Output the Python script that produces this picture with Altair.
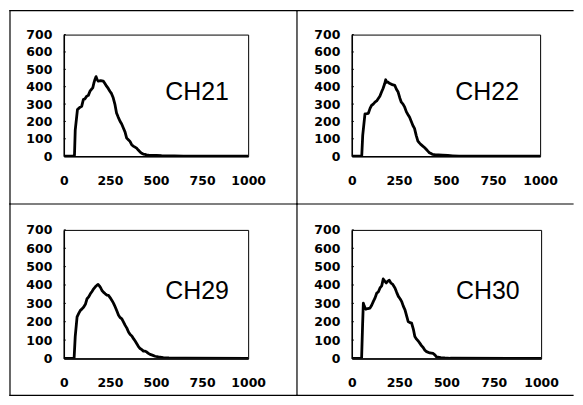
import altair as alt
import pandas as pd

# ---- data ----
names = ["CH21", "CH22", "CH29", "CH30"]

ch21_x = [0, 50, 58, 62, 74, 86, 97, 106, 115, 124, 133, 142, 150, 157, 163, 169, 175, 181, 187, 200, 214, 223, 232, 241, 250, 259, 268, 277, 286, 295, 305, 314, 323, 332, 341, 350, 359, 368, 377, 386, 395, 404, 413, 422, 431, 440, 449, 460, 480, 503, 530, 557, 600, 650, 1000]
ch21_y = [0, 0, 5, 150, 268, 280, 287, 326, 330, 345, 350, 374, 385, 393, 420, 442, 458, 440, 432, 435, 432, 418, 403, 390, 374, 360, 336, 300, 249, 225, 201, 185, 162, 140, 104, 95, 85, 66, 58, 52, 46, 35, 25, 17, 12, 10, 8, 6, 5, 5, 3, 2, 1, 0, 0]

ch22_x = [0, 45, 53, 58, 70, 80, 88, 97, 105, 114, 123, 132, 140, 149, 158, 166, 175, 180, 184, 190, 202, 215, 228, 237, 246, 255, 263, 272, 281, 290, 298, 307, 316, 325, 333, 342, 351, 360, 368, 377, 386, 395, 404, 412, 421, 430, 445, 460, 482, 510, 535, 570, 1000]
ch22_y = [0, 0, 3, 120, 243, 245, 247, 275, 292, 300, 311, 318, 331, 345, 369, 390, 418, 440, 425, 428, 418, 412, 408, 385, 369, 335, 311, 300, 282, 255, 240, 224, 200, 175, 160, 120, 87, 75, 66, 58, 50, 40, 29, 20, 15, 10, 8, 7, 6, 4, 2, 0, 0]

ch29_x = [0, 50, 56, 62, 72, 81, 90, 99, 108, 117, 126, 135, 144, 153, 162, 171, 179, 186, 193, 200, 207, 216, 225, 234, 243, 252, 261, 270, 279, 288, 297, 306, 315, 324, 333, 342, 351, 360, 369, 378, 387, 396, 405, 414, 423, 432, 441, 450, 459, 468, 480, 495, 513, 540, 570, 610, 660, 1000]
ch29_y = [0, 0, 3, 120, 226, 245, 262, 270, 280, 295, 325, 335, 352, 365, 379, 390, 398, 403, 395, 385, 370, 360, 352, 345, 343, 330, 316, 300, 280, 258, 235, 222, 215, 198, 180, 165, 144, 130, 122, 108, 95, 80, 65, 54, 48, 40, 40, 35, 28, 22, 18, 12, 8, 5, 3, 2, 1, 0]

ch30_x = [0, 45, 52, 57, 61, 66, 74, 85, 96, 105, 114, 123, 132, 140, 149, 158, 166, 175, 182, 189, 198, 207, 215, 228, 237, 246, 255, 263, 272, 281, 290, 298, 307, 316, 325, 333, 342, 351, 360, 368, 377, 386, 395, 412, 430, 440, 447, 470, 491, 520, 1000]
ch30_y = [0, 0, 5, 180, 301, 285, 268, 272, 274, 290, 311, 330, 356, 362, 384, 395, 433, 420, 411, 420, 426, 410, 405, 384, 360, 338, 325, 311, 285, 265, 230, 201, 195, 192, 160, 119, 105, 95, 82, 70, 60, 45, 37, 30, 27, 18, 9, 5, 3, 1, 0]

x_ticks = [0, 250, 500, 750, 1000]
y_ticks = [0, 100, 200, 300, 400, 500, 600, 700]
label_pos = (550, 322)

FONT = "DejaVu Sans"


def panel(name, xs, ys, w, h, left, top, right, bottom, draw_bottom):
    df = pd.DataFrame({"x": xs, "y": ys})
    xs_ = alt.Scale(domain=[0, 1000.01], nice=False)
    ys_ = alt.Scale(domain=[0, 700.01], nice=False)
    x_axis = alt.Axis(values=x_ticks, format="d", labelPadding=18, ticks=False,
                      grid=False, labelOverlap=False, labelFlush=False, title=None)
    y_axis = alt.Axis(values=y_ticks, format="d", labelPadding=12, ticks=False,
                      grid=False, labelOverlap=False, labelFlush=False, title=None)
    line = alt.Chart(df).mark_line(color="black", strokeWidth=2.8, clip=True,
                                   strokeJoin="round").encode(
        x=alt.X("x:Q", scale=xs_, axis=x_axis),
        y=alt.Y("y:Q", scale=ys_, axis=y_axis),
    )
    tick_df = pd.DataFrame({"t": y_ticks[1:]})
    yt = alt.Chart(tick_df).mark_rule(color="black", strokeWidth=1).encode(
        y=alt.Y("t:Q", scale=ys_, axis=y_axis),
        x=alt.X(datum=0, scale=xs_, axis=x_axis), x2=alt.datum(11))
    one = pd.DataFrame({"n": [name]})
    txt = alt.Chart(one).mark_text(align="left", baseline="alphabetic", font="Liberation Sans",
                                   fontSize=25, color="black").encode(
        x=alt.X(datum=label_pos[0], scale=xs_, axis=x_axis),
        y=alt.Y(datum=label_pos[1], scale=ys_, axis=y_axis), text="n:N")
    rule = dict(color="black", strokeWidth=1.2, strokeCap="square")
    fr_top = alt.Chart(one).mark_rule(**rule).encode(
        x=alt.value(left), x2=alt.value(right), y=alt.value(top))
    fr_left = alt.Chart(one).mark_rule(**rule).encode(
        x=alt.value(left), y=alt.value(top), y2=alt.value(bottom))
    layers = [line, yt, txt, fr_top, fr_left]
    if draw_bottom:
        fr_bot = alt.Chart(one).mark_rule(**rule).encode(
            x=alt.value(left), x2=alt.value(right), y=alt.value(bottom))
        layers.append(fr_bot)
    return alt.layer(*layers).properties(width=w, height=h)


# plot areas: TL (62,32) 185x122, TR (351,32) 189x122, BL (62,228) 185x129, BR (351,228) 190x129
# frame lines (page): x 8 | 296 | 573, y 8 | 202 | 394  (whole chart must stay inside 567x389)
p1 = panel(names[0], ch21_x, ch21_y, 185, 122, -54, -24, 234, 170, False)
p2 = panel(names[1], ch22_x, ch22_y, 189, 122, -55, -24, 222, 170, False)
p3 = panel(names[2], ch29_x, ch29_y, 185, 129, -54, -26, 234, 166, True)
p4 = panel(names[3], ch30_x, ch30_y, 190, 129, -55, -26, 222, 166, True)

chart = alt.concat(p1, p2, p3, p4, columns=2, spacing={"row": 74, "column": 104},
                   bounds="flush", align="none").properties(
    padding={"left": 0, "top": 0, "right": 0, "bottom": 0}, background="white"
).configure_view(
    stroke="black", strokeWidth=1
).configure_axis(
    labelFont=FONT, labelFontWeight="bold", labelFontSize=12.5, labelColor="black",
    domainColor="black", domainWidth=1.5,
)

chart.save("out.html", embed_options={"renderer": "svg", "actions": False})
